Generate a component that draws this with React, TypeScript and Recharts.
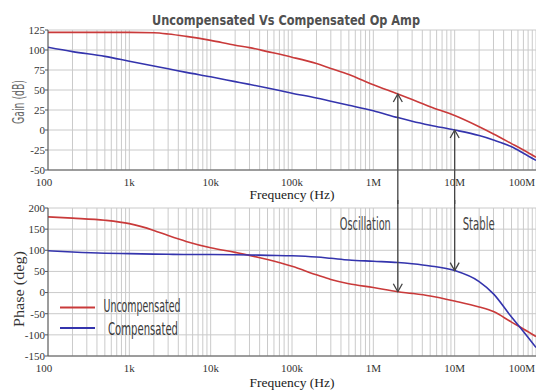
import React from "react";
import {
  LineChart,
  Line,
  XAxis,
  YAxis,
  CartesianGrid,
  ReferenceLine,
  Legend,
  Label,
} from "recharts";

// frequency points (Hz) the curves were read at
const freqs = [
  100, 200, 500, 1e3, 2e3, 3e3, 5e3, 1e4, 2e4, 3e4, 5e4, 1e5, 2e5, 3e5, 5e5,
  1e6, 2e6, 3e6, 5e6, 1e7, 2e7, 3e7, 5e7, 7e7, 1e8,
];

const gainUncomp = [
  122, 122, 122, 122, 121.5, 120, 117, 112, 106, 103, 98, 91, 83, 77, 69.5,
  56.5, 45, 38, 29, 18, 4, -5, -17, -25, -34,
];
const gainComp = [
  103.5, 98, 92, 86, 80, 76.5, 72, 66.5, 60.5, 57, 52.5, 46, 40, 36, 31, 24,
  15.5, 11, 6, 0, -7, -12.5, -21, -29, -38,
];
const phaseUncomp = [
  179, 176, 171, 163, 147, 135, 121, 106, 95, 88, 78, 62, 42, 31, 21, 12, 2,
  -2, -8, -20, -34, -45, -70, -86, -104,
];
const phaseComp = [
  99, 96, 93, 92, 91, 90.5, 90, 90, 89.5, 89, 88, 87, 84, 81, 77, 74, 71, 68,
  63, 52, 26, -3, -58, -92, -130,
];

const freqTicks = [1e2, 1e3, 1e4, 1e5, 1e6, 1e7, 1e8];
const freqLabels = ["100", "1k", "10k", "100k", "1M", "10M", "100M"];
const gainTicks = [-50, -25, 0, 25, 50, 75, 100, 125];
const phaseTicks = [-150, -100, -50, 0, 50, 100, 150, 200];

// crossover markers
const oscFreq = 2e6;
const stableFreq = 1e7;

const seriesNames = ["Uncompensated", "Compensated"];

const RED = "#c93a3a";
const BLUE = "#3434ad";
const GRID = "#cacaca";
const AXIS = "#555";
const SERIF = "'Liberation Serif', 'Times New Roman', serif";
const NARROW = "'DejaVu Sans Condensed', 'Liberation Sans Narrow', sans-serif";

const data = freqs.map((f, i) => ({
  f,
  gu: gainUncomp[i],
  gc: gainComp[i],
  pu: phaseUncomp[i],
  pc: phaseComp[i],
}));

const at = (arr: number[], f: number) => arr[freqs.indexOf(f)];

// every 1..9 x decade for the log grid
const minorFreqs: number[] = [];
for (let k = 2; k <= 8; k++) {
  for (let m = 1; m <= 9; m++) {
    const v = m * Math.pow(10, k);
    if (v <= 1e8) minorFreqs.push(v);
  }
}

const vgen = (props: any) => {
  const { xAxis, offset } = props;
  if (xAxis && typeof xAxis.scale === "function") {
    return minorFreqs.map((f) => xAxis.scale(f));
  }
  return minorFreqs.map(
    (f) => offset.left + (offset.width * (Math.log10(f) - 2)) / 6
  );
};

const fmtFreq = (v: number) => freqLabels[freqTicks.indexOf(v)] ?? String(v);

const tickStyle = { fontSize: 11, fill: "#333", fontFamily: SERIF };

// first/last labels are pulled in so they stay on the page
const FreqTick = (props: any) => {
  const { x, y, payload } = props;
  const v = payload.value;
  const last = v === freqTicks[freqTicks.length - 1];
  const first = v === freqTicks[0];
  return (
    <text
      x={last ? x - 1 : first ? x - 4 : x}
      y={y}
      dy="0.71em"
      textAnchor={last ? "end" : "middle"}
      {...tickStyle}
    >
      {fmtFreq(v)}
    </text>
  );
};

const yTitle =
  (text: string, dy: number, len: number, font: string, fill: string) =>
  (props: any) => {
    const vb = props.viewBox;
    const cx = 19;
    const cy = vb.y + vb.height / 2 + dy;
    return (
      <text
        x={cx}
        y={cy}
        transform={`rotate(-90 ${cx} ${cy})`}
        textAnchor="middle"
        dominantBaseline="central"
        fontSize={15}
        fontFamily={font}
        fill={fill}
        textLength={len}
        lengthAdjust="spacingAndGlyphs"
      >
        {text}
      </text>
    );
  };

// vertical arrow with an open head at the data point
const arrow =
  (tipUp: boolean, text?: string, side?: "left" | "right", len?: number) =>
  (p: any) => {
    const x = p.x1;
    const tip = tipUp ? Math.min(p.y1, p.y2) : Math.max(p.y1, p.y2);
    const tail = tipUp ? Math.max(p.y1, p.y2) : Math.min(p.y1, p.y2);
    const d = tipUp ? 8 : -8;
    return (
      <g>
        <line x1={x} y1={tail} x2={x} y2={tip} stroke="#444" strokeWidth={1.3} />
        <polyline
          points={`${x - 4.5},${tip + d} ${x},${tip} ${x + 4.5},${tip + d}`}
          fill="none"
          stroke="#444"
          strokeWidth={1.3}
        />
        {text && (
          <text
            x={side === "left" ? x - 7 : x + 8}
            y={30}
            textAnchor={side === "left" ? "end" : "start"}
            fontSize={17}
            fontFamily={NARROW}
            fill="#444"
            textLength={len}
            lengthAdjust="spacingAndGlyphs"
          >
            {text}
          </text>
        )}
      </g>
    );
  };

const renderLegend = () => (
  <svg width={220} height={46}>
    <line x1={4} x2={39} y1={12.5} y2={12.5} stroke={RED} strokeWidth={2} />
    <text
      x={86}
      y={16.5}
      textAnchor="middle"
      fontSize={17}
      fontFamily={NARROW}
      fill="#3a3a3a"
      textLength={77}
      lengthAdjust="spacingAndGlyphs"
    >
      {seriesNames[0]}
    </text>
    <line x1={4} x2={39} y1={33} y2={33} stroke={BLUE} strokeWidth={2} />
    <text
      x={87}
      y={40}
      textAnchor="middle"
      fontSize={17}
      fontFamily={NARROW}
      fill="#3a3a3a"
      textLength={70}
      lengthAdjust="spacingAndGlyphs"
    >
      {seriesNames[1]}
    </text>
  </svg>
);

const xAxisProps = {
  dataKey: "f",
  type: "number" as const,
  scale: "log" as const,
  domain: [100, 1e8],
  ticks: freqTicks,
  interval: 0 as const,
  height: 34,
  tick: <FreqTick />,
  tickLine: false,
  axisLine: { stroke: AXIS },
  allowDataOverflow: true,
};

export default function App() {
  return (
    <div
      style={{
        position: "absolute",
        left: 0,
        top: 0,
        width: 536,
        height: 390,
        background: "#fff",
      }}
    >
      <svg
        width={536}
        height={30}
        style={{ position: "absolute", left: 0, top: 0 }}
      >
        <text
          x={152}
          y={25}
          fontSize={14}
          fontWeight="bold"
          fontFamily={NARROW}
          fill="#505050"
          textLength={268}
          lengthAdjust="spacingAndGlyphs"
        >
          Uncompensated Vs Compensated Op Amp
        </text>
      </svg>

      <div
        style={{
          position: "absolute",
          left: 0,
          top: 0,
          width: 536,
          height: 204,
          overflow: "hidden",
        }}
      >
        <LineChart
          width={536}
          height={204}
          data={data}
          margin={{ top: 30, right: 0, bottom: 0, left: 0 }}
        >
          <CartesianGrid stroke={GRID} verticalCoordinatesGenerator={vgen} />
          <XAxis {...xAxisProps}>
            <Label
              value="Frequency (Hz)"
              position="insideBottom"
              offset={5}
              fontSize={13.5}
              fontFamily={SERIF}
              fill="#222"
            />
          </XAxis>
          <YAxis
            domain={[-50, 125]}
            ticks={gainTicks}
            interval={0}
            width={48}
            tick={tickStyle}
            tickSize={3}
            tickMargin={0}
            tickLine={{ stroke: AXIS }}
            axisLine={{ stroke: AXIS }}
          >
            <Label content={yTitle("Gain (dB)", 2, 44, NARROW, "#666")} />
          </YAxis>
          <Line
            dataKey="gu"
            name={seriesNames[0]}
            type="monotone"
            stroke={RED}
            strokeWidth={1.6}
            dot={false}
            isAnimationActive={false}
          />
          <Line
            dataKey="gc"
            name={seriesNames[1]}
            type="monotone"
            stroke={BLUE}
            strokeWidth={1.6}
            dot={false}
            isAnimationActive={false}
          />
          <ReferenceLine
            segment={[
              { x: oscFreq, y: at(gainUncomp, oscFreq) },
              { x: oscFreq, y: -120 },
            ]}
            ifOverflow="visible"
            shape={arrow(true)}
          />
          <ReferenceLine
            segment={[
              { x: stableFreq, y: at(gainComp, stableFreq) },
              { x: stableFreq, y: -120 },
            ]}
            ifOverflow="visible"
            shape={arrow(true)}
          />
        </LineChart>
      </div>

      <div
        style={{
          position: "absolute",
          left: 0,
          top: 200,
          width: 536,
          height: 190,
          overflow: "hidden",
        }}
      >
        <LineChart
          width={536}
          height={190}
          data={data}
          margin={{ top: 8, right: 0, bottom: 0, left: 0 }}
        >
          <CartesianGrid stroke={GRID} verticalCoordinatesGenerator={vgen} />
          <XAxis {...xAxisProps}>
            <Label
              value="Frequency (Hz)"
              position="insideBottom"
              offset={3}
              fontSize={13.5}
              fontFamily={SERIF}
              fill="#222"
            />
          </XAxis>
          <YAxis
            domain={[-150, 200]}
            ticks={phaseTicks}
            interval={0}
            width={48}
            tick={tickStyle}
            tickSize={3}
            tickMargin={0}
            tickLine={{ stroke: AXIS }}
            axisLine={{ stroke: AXIS }}
          >
            <Label content={yTitle("Phase (deg)", 7, 76, SERIF, "#333")} />
          </YAxis>
          <Line
            dataKey="pu"
            name={seriesNames[0]}
            type="monotone"
            stroke={RED}
            strokeWidth={1.6}
            dot={false}
            isAnimationActive={false}
          />
          <Line
            dataKey="pc"
            name={seriesNames[1]}
            type="monotone"
            stroke={BLUE}
            strokeWidth={1.6}
            dot={false}
            isAnimationActive={false}
          />
          <ReferenceLine
            segment={[
              { x: oscFreq, y: 700 },
              { x: oscFreq, y: at(phaseUncomp, oscFreq) },
            ]}
            ifOverflow="visible"
            shape={arrow(false, "Oscillation", "left", 51)}
          />
          <ReferenceLine
            segment={[
              { x: stableFreq, y: 700 },
              { x: stableFreq, y: at(phaseComp, stableFreq) },
            ]}
            ifOverflow="visible"
            shape={arrow(false, "Stable", "right", 32)}
          />
          <Legend
            layout="vertical"
            align="center"
            verticalAlign="middle"
            content={renderLegend}
            wrapperStyle={{ left: 56, top: 95, width: 220, height: 46 }}
          />
        </LineChart>
      </div>
    </div>
  );
}
